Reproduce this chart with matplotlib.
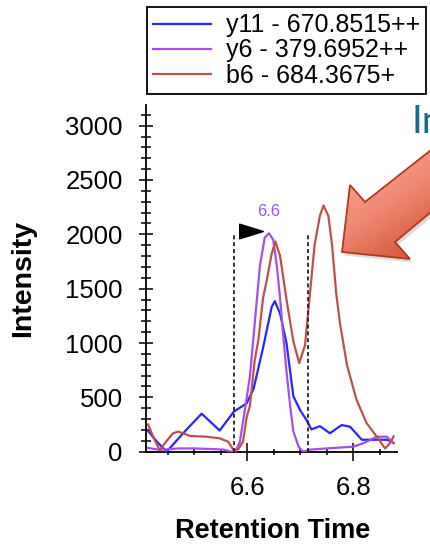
import numpy as np
import matplotlib
matplotlib.use("Agg")
import matplotlib.pyplot as plt
from matplotlib.patches import Polygon
from matplotlib.path import Path
from matplotlib.colors import LinearSegmentedColormap
from matplotlib.ticker import MultipleLocator

plt.rcParams['font.family'] = ['Liberation Sans', 'DejaVu Sans']

# Chromatogram traces (retention time in min, intensity)
y11_rt = [6.413, 6.430, 6.448, 6.480, 6.514, 6.548, 6.575, 6.599, 6.612, 6.630,
          6.646, 6.652, 6.662, 6.674, 6.687, 6.700, 6.712, 6.721, 6.737, 6.756,
          6.778, 6.794, 6.816, 6.838, 6.863, 6.872, 6.876]
y11_int = [190, 90, 0, 175, 350, 195, 370, 445, 580, 960,
           1330, 1385, 1270, 1000, 510, 380, 290, 205, 235, 170,
           245, 230, 110, 110, 110, 95, 80]

y6_rt = [6.413, 6.430, 6.445, 6.470, 6.500, 6.530, 6.555, 6.570, 6.578, 6.586,
         6.595, 6.605, 6.615, 6.624, 6.633, 6.641, 6.649, 6.656, 6.662, 6.668,
         6.674, 6.681, 6.687, 6.697, 6.705, 6.720, 6.750, 6.780, 6.800, 6.820,
         6.844, 6.863, 6.876]
y6_int = [35, 20, 20, 30, 30, 25, 20, 0, 0, 90,
          370, 690, 1230, 1715, 1970, 2010, 1950, 1700, 1410, 1060,
          740, 420, 185, 45, 0, 20, 30, 40, 46, 80,
          138, 138, 77]

b6_rt = [6.413, 6.424, 6.435, 6.448, 6.460, 6.470, 6.492, 6.523, 6.548, 6.564,
         6.574, 6.583, 6.592, 6.599, 6.605, 6.614, 6.621, 6.630, 6.637, 6.646,
         6.653, 6.662, 6.674, 6.687, 6.698, 6.709, 6.718, 6.727, 6.737, 6.744,
         6.753, 6.760, 6.768, 6.775, 6.788, 6.806, 6.825, 6.844, 6.860, 6.869,
         6.876]
b6_int = [250, 120, 15, 100, 170, 185, 145, 138, 123, 92,
          15, 22, 92, 320, 420, 840, 1030, 1420, 1580, 1820,
          1935, 1800, 1400, 1015, 815, 980, 1440, 1900, 2170, 2265,
          2170, 1900, 1450, 1180, 800, 480, 265, 140, 30, 77,
          140]

labels = ['y11 - 670.8515++', 'y6 - 379.6952++', 'b6 - 684.3675+']
colors = ['#2626ff', '#a24ff0', '#bf4f4c']

# integration boundaries of the picked peak
peak_start, peak_end = 6.575, 6.715
boundary_top = 2000

fig = plt.figure(figsize=(4.31, 5.48), dpi=100)
ax = fig.add_axes([146 / 431, 1 - 451.7 / 548, 251 / 431, 346.7 / 548])

series = [(y11_rt, y11_int), (y6_rt, y6_int), (b6_rt, b6_int)]
lines = []
for (rt, inten), lab, c in zip(series, labels, colors):
    ln, = ax.plot(rt, inten, color=c, lw=1.6, label=lab, zorder=3)
    lines.append(ln)

ax.vlines([peak_start, peak_end], 0, boundary_top, colors='#222222',
          linestyles=(0, (2.2, 1.6)), lw=1.3, zorder=4)

# apex label for the most intense transition inside the peak
apex = int(np.argmax(y6_int))
ax.annotate(f'{y6_rt[apex]:.1f}', xy=(y6_rt[apex], y6_int[apex]),
            xytext=(0, 10), textcoords='offset points', ha='center',
            va='bottom', color=colors[1], fontsize=12)

# flag marking the chosen peak
flag = Path([(-1, 0.62), (-1, -0.62), (1, 0), (-1, 0.62)],
            [Path.MOVETO, Path.LINETO, Path.LINETO, Path.CLOSEPOLY])
ax.plot([peak_start + 0.032], [2035], marker=flag, ms=17, color='black',
        zorder=5, clip_on=False)

ax.set_xlim(6.409, 6.8825)
ax.set_ylim(0, 3190)
ax.xaxis.set_major_locator(MultipleLocator(0.2))
ax.xaxis.set_minor_locator(MultipleLocator(0.05))
ax.yaxis.set_major_locator(MultipleLocator(500))
ax.yaxis.set_minor_locator(MultipleLocator(100))
ax.tick_params(axis='y', which='major', direction='inout', length=9.5,
               width=1.1, pad=12, labelsize=18.5)
ax.tick_params(axis='y', which='minor', direction='inout', length=7,
               width=1.1)
ax.tick_params(axis='x', which='major', direction='inout', length=13,
               width=1.1, pad=11, labelsize=18.5)
ax.tick_params(axis='x', which='minor', direction='inout', length=5,
               width=1.1)
for s in ['top', 'right']:
    ax.spines[s].set_visible(False)
for s in ['left', 'bottom']:
    ax.spines[s].set_linewidth(1.3)

ax.set_ylabel('Intensity', fontsize=20.5, fontweight='bold', va='center')
ax.yaxis.set_label_coords(-0.49, 0.5)
ax.set_xlabel('Retention Time', fontsize=19.5, fontweight='bold', va='center')
ax.xaxis.set_label_coords(0.504, -0.23)

leg = ax.legend(handles=lines, loc='upper left',
                bbox_to_anchor=(147 / 431, 1 - 7 / 548),
                bbox_transform=fig.transFigure, fontsize=18,
                frameon=True, fancybox=False, edgecolor='black',
                framealpha=1, handlelength=2.3, handletextpad=0.6,
                labelspacing=0.05, borderpad=0.25, borderaxespad=0)
leg.get_frame().set_linewidth(1.3)

# overlay in pixel coordinates for the callout
ov = fig.add_axes([0, 0, 1, 1], zorder=10)
ov.set_xlim(0, 431)
ov.set_ylim(548, 0)
ov.axis('off')
ov.patch.set_alpha(0)

ov.text(412, 133, 'In', color='#1a6a8c', fontsize=28, family='Lato',
        ha='left', va='baseline')

arrow_pts = np.array([(342, 252), (350, 185), (365, 202), (431, 150),
                      (431, 212), (395, 242), (410, 259)])
shadow = Polygon(arrow_pts + [2.5, 3.5], closed=True, fc='#888888',
                 ec='none', alpha=0.3)
ov.add_patch(shadow)
body = Polygon(arrow_pts, closed=True, fc='none', ec='#b03a1c', lw=1.3,
               zorder=3)
ov.add_patch(body)
gx, gy = np.meshgrid(np.linspace(0, 1, 200), np.linspace(0, 1, 200))
grad = 0.35 * gx + 0.65 * gy
cmap = LinearSegmentedColormap.from_list('callout', ['#f9b3a1', '#f08a74', '#d04a2e'])
im = ov.imshow(grad, extent=[335, 431, 262, 145], cmap=cmap, aspect='auto',
               origin='upper', zorder=2, interpolation='bilinear')
im.set_clip_path(body)
ov.set_xlim(0, 431)
ov.set_ylim(548, 0)

fig.savefig('out.png', dpi=100, facecolor='white')
